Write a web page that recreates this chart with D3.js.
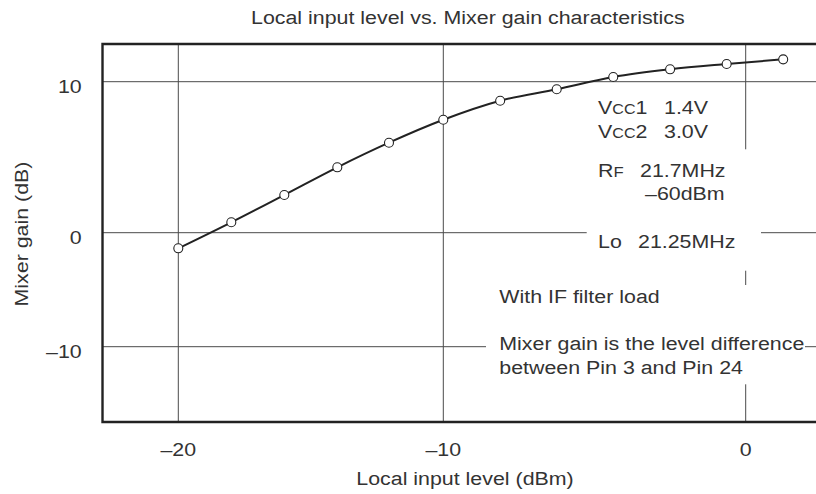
<!DOCTYPE html>
<html>
<head>
  <title>Local input level vs. Mixer gain</title>
  <style>
    body { margin: 0; background: #fff; }
    svg { display: block; }
    text { font-family: "Liberation Sans", Arial, Helvetica, sans-serif; font-size: 18.6px; fill: #333; }
  </style>
</head>
<body>
  <svg width="816" height="494"></svg>
  <script src="https://d3js.org/d3.v7.min.js"></script>
  <script>
    // values
    const inputLevel = [-20, -18, -16, -14, -12.05, -10, -8.12, -6.25, -4.38, -2.5, -0.63, 1.24];
    const mixerGain = [-1.37, 0.69, 2.5, 4.33, 5.96, 7.48, 8.74, 9.5, 10.31, 10.82, 11.17, 11.48];
    const xTicks = [-20, -10, 0];
    const xTickLabels = ["\u201320", "\u201310", "0"];
    const yTicks = [-10, 0, 10];
    const yTickLabels = ["\u201310", "0", "10"];

    const svg = d3.select("svg");
    const W = +svg.attr("width");

    // the printed grid is not evenly spaced, so use piecewise scales
    const x = d3.scaleLinear().domain([-20, -10, 0]).range([178.3, 443.3, 745.7]);
    const y = d3.scaleLinear().domain([-10, 0, 10]).range([346.7, 232.7, 81.7]);

    const frameLeft = x(-22.86), frameTop = y(12.5), frameBottom = y(-16.6);
    const stretch = 1.15;   // glyphs in the source are a bit wide

    function label(g, px, py, str, anchor) {
      return g.append("text")
        .attr("transform", "translate(" + px + "," + py + ") scale(" + stretch + ",1)")
        .attr("text-anchor", anchor || "start")
        .text(str);
    }

    // grid lines
    const grid = svg.append("g").attr("stroke", "#4a4a4a").attr("stroke-width", 1);
    grid.selectAll(".vx")
      .data(xTicks)
      .enter().append("line")
      .attr("x1", d => x(d)).attr("x2", d => x(d))
      .attr("y1", frameTop).attr("y2", frameBottom);
    grid.selectAll(".hy")
      .data(yTicks)
      .enter().append("line")
      .attr("x1", frameLeft).attr("x2", W)
      .attr("y1", d => y(d)).attr("y2", d => y(d));

    // white panels that break the grid behind the notes
    svg.append("rect").attr("x", 586.7).attr("y", 149.3).attr("width", 174.3).attr("height", 121.4).attr("fill", "#fff");
    svg.append("rect").attr("x", 486).attr("y", 285).attr("width", 319).attr("height", 99.3).attr("fill", "#fff");

    // frame (no right side)
    svg.append("path")
      .attr("fill", "none")
      .attr("stroke", "#222")
      .attr("stroke-width", 2.4)
      .attr("d", "M" + W + "," + frameTop + "H" + frameLeft + "V" + frameBottom + "H" + W);

    // the curve
    const pts = inputLevel.map((v, i) => [v, mixerGain[i]]);
    svg.append("path")
      .datum(pts)
      .attr("fill", "none")
      .attr("stroke", "#222")
      .attr("stroke-width", 2)
      .attr("d", d3.line().x(d => x(d[0])).y(d => y(d[1])).curve(d3.curveMonotoneX));

    svg.selectAll(".pt")
      .data(pts)
      .enter().append("circle")
      .attr("cx", d => x(d[0]))
      .attr("cy", d => y(d[1]))
      .attr("r", 4.5)
      .attr("fill", "#fff")
      .attr("stroke", "#222")
      .attr("stroke-width", 1.1);

    // tick labels
    const tl = svg.append("g");
    xTicks.forEach((t, i) => label(tl, x(t), 456, xTickLabels[i], "middle"));
    yTicks.forEach((t, i) => label(tl, 81.7, y(t) + 11.5, yTickLabels[i], "end"));

    // titles
    label(svg, 251, 24, "Local input level vs. Mixer gain characteristics");
    label(svg, 465, 485, "Local input level (dBm)", "middle");
    svg.append("text")
      .attr("transform", "translate(28,234) rotate(-90) scale(" + stretch + ",1)")
      .attr("text-anchor", "middle")
      .text("Mixer gain (dB)");

    // notes
    const notes = svg.append("g");
    const vcc1 = label(notes, 598, 114, "V");
    vcc1.append("tspan").attr("font-size", 14).text("CC");
    vcc1.append("tspan").text("1");
    label(notes, 664, 114, "1.4V");
    const vcc2 = label(notes, 598, 138, "V");
    vcc2.append("tspan").attr("font-size", 14).text("CC");
    vcc2.append("tspan").text("2");
    label(notes, 664, 138, "3.0V");
    const rf = label(notes, 598, 176.5, "R");
    rf.append("tspan").attr("font-size", 14.5).text("F");
    label(notes, 640, 176.5, "21.7MHz");
    label(notes, 645, 200, "\u201360dBm");
    label(notes, 598, 248, "Lo");
    label(notes, 638, 248, "21.25MHz");
    label(notes, 499.3, 302.7, "With IF filter load");
    label(notes, 499.3, 350, "Mixer gain is the level difference");
    label(notes, 499.3, 374, "between Pin 3 and Pin 24");
  </script>
</body>
</html>
